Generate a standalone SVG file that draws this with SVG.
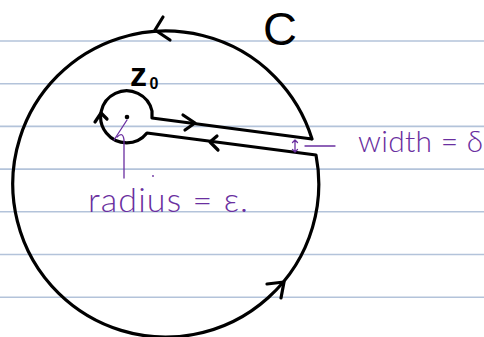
<svg xmlns="http://www.w3.org/2000/svg" width="484" height="337" viewBox="0 0 484 337">
<style>
.rule{stroke:#b3c3da;stroke-width:1.6;fill:none}
.ink{stroke:#000;stroke-width:3.2;fill:none;stroke-linecap:round;stroke-linejoin:round}
.pen{stroke:#6a2fa0;stroke-width:1.3;fill:none;stroke-linecap:round;stroke-linejoin:round}
.lbl{font-family:"Liberation Sans",Arial,sans-serif;fill:#000}
.plbl{font-family:Lato,"Liberation Sans",sans-serif;font-weight:300;fill:#6a2fa0}
</style>
<rect width="484" height="337" fill="#fff"/>
<g id="paper-lines">
<line class="rule" x1="0" y1="41" x2="484" y2="41"/>
<line class="rule" x1="0" y1="83.7" x2="484" y2="83.7"/>
<line class="rule" x1="0" y1="126.4" x2="484" y2="126.4"/>
<line class="rule" x1="0" y1="169.1" x2="484" y2="169.1"/>
<line class="rule" x1="0" y1="211.8" x2="484" y2="211.8"/>
<line class="rule" x1="0" y1="254.5" x2="484" y2="254.5"/>
<line class="rule" x1="0" y1="297.2" x2="484" y2="297.2"/>
</g>
<g id="connectors">
<path id="contour" class="ink" d="M312,139 L152,118 L152,111 A26,26 0 1 0 147,133 L316,155 A153,153 0 1 1 312,139"/>
<polyline class="ink" points="163,17 155,30 170,40"/>
<polyline class="ink" points="183,115 195,123 185,130"/>
<polyline class="ink" points="217,136 210,142 218,150"/>
<polyline class="ink" points="95,122 101,113 107,119"/>
<polyline class="ink" points="267,284 284,282 281,298"/>
<path class="pen" d="M127,120 L114,140"/>
<path class="pen" d="M117,137 Q123,131 124,140 L124,178"/>
<path class="pen" d="M305,146 L335,146"/>
<path class="pen" d="M295,140 L295,152 M292.5,142.5 L295,140 L297.5,142.5 M292.5,149.5 L295,152 L297.5,149.5"/>
<circle cx="153" cy="176" r="0.9" fill="#6a2fa0"/>
</g>
<g id="z0">
<circle cx="127" cy="117" r="2.3" fill="#000"/>
<text class="lbl" x="130" y="85.5" font-size="34" font-weight="bold">z<tspan x="149.5" y="88.5" font-size="16">0</tspan></text>
</g>
<g id="C"><text class="lbl" x="263" y="45" font-size="47">C</text></g>
<g id="width"><text class="plbl" x="358" y="152" font-size="30" textLength="125" lengthAdjust="spacing">width = δ</text></g>
<g id="radius"><text class="plbl" x="88" y="212" font-size="34" textLength="160" lengthAdjust="spacing">radius = ε.</text></g>
</svg>
